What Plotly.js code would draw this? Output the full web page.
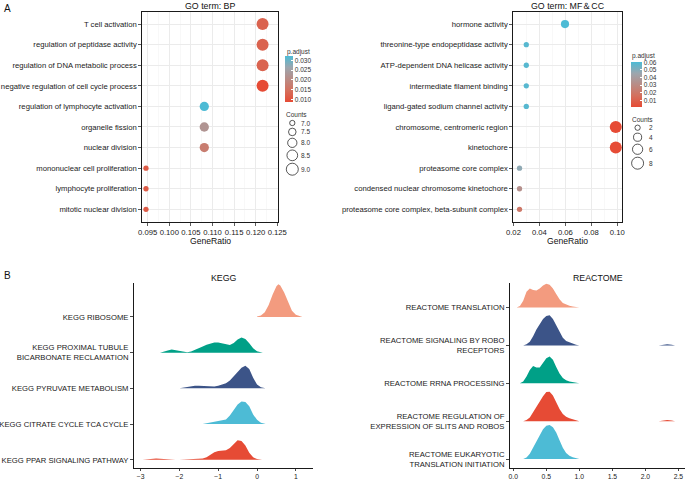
<!DOCTYPE html>
<html><head><meta charset="utf-8">
<script src="https://cdn.plot.ly/plotly-3.0.1.min.js"></script>
<style>html,body{margin:0;padding:0;background:#fff}#c{width:685px;height:481px}</style>
</head><body><div id="c"></div>
<script>
// ---------- DATA ----------
const BP_terms = ["T cell activation","regulation of peptidase activity","regulation of DNA metabolic process","negative regulation of cell cycle process","regulation of lymphocyte activation","organelle fission","nuclear division","mononuclear cell proliferation","lymphocyte proliferation","mitotic nuclear division"];
const BP_ratio = [0.1216,0.1216,0.1216,0.1216,0.1081,0.1081,0.1081,0.0946,0.0946,0.0946];
const BP_count = [9,9,9,9,8,8,8,7,7,7];
const BP_padj  = [0.0125,0.0124,0.0126,0.0086,0.0322,0.0222,0.0172,0.0113,0.0113,0.0113];
const BP_padj_ticks = [0.010,0.015,0.020,0.025,0.030];
const BP_count_breaks = [7.0,7.5,8.0,8.5,9.0];

const MF_terms = ["hormone activity","threonine-type endopeptidase activity","ATP-dependent DNA helicase activity","intermediate filament binding","ligand-gated sodium channel activity","chromosome, centromeric region","kinetochore","proteasome core complex","condensed nuclear chromosome kinetochore","proteasome core complex, beta-subunit complex"];
const MF_ratio = [0.0597,0.0299,0.0299,0.0299,0.0299,0.0988,0.0988,0.0247,0.0247,0.0247];
const MF_count = [4,2,2,2,2,8,8,2,2,2];
const MF_padj  = [0.0604,0.0585,0.0585,0.0585,0.0585,0.0012,0.0015,0.0480,0.0330,0.0200];
const MF_padj_ticks = [0.01,0.02,0.03,0.04,0.05,0.06];
const MF_count_breaks = [2,4,6,8];

const KEGG_labels = ["KEGG PPAR SIGNALING PATHWAY","KEGG CITRATE CYCLE TCA CYCLE","KEGG PYRUVATE METABOLISM","KEGG PROXIMAL TUBULE<br>BICARBONATE RECLAMATION","KEGG RIBOSOME"];
const KEGG_ribosome_x = [0.0,0.1,0.2,0.3,0.4,0.5,0.55,0.6,0.7,0.8,0.9,1.0,1.1,1.17];
const KEGG_ribosome_d = [0.01,0.04,0.13,0.33,0.62,0.86,0.91,0.88,0.68,0.40,0.17,0.06,0.02,0];
const KEGG_proximal_x = [-2.5,-2.4,-2.3,-2.2,-2.1,-2.0,-1.9,-1.8,-1.7,-1.6,-1.5,-1.4,-1.3,-1.2,-1.1,-1.0,-0.9,-0.8,-0.7,-0.6,-0.5,-0.4,-0.3,-0.2,-0.1,0.0,0.1,0.15];
const KEGG_proximal_d = [0,0.02,0.06,0.09,0.07,0.03,0.01,0.01,0.03,0.07,0.12,0.17,0.22,0.26,0.28,0.28,0.25,0.22,0.21,0.27,0.37,0.42,0.38,0.26,0.12,0.04,0.01,0];
const KEGG_pyruvate_x = [-2.0,-1.9,-1.8,-1.7,-1.6,-1.5,-1.4,-1.3,-1.2,-1.1,-1.0,-0.9,-0.8,-0.7,-0.6,-0.5,-0.4,-0.3,-0.2,-0.1,0.0,0.1,0.2,0.22];
const KEGG_pyruvate_d = [0,0.02,0.04,0.06,0.07,0.07,0.06,0.05,0.05,0.05,0.07,0.10,0.14,0.22,0.34,0.46,0.58,0.63,0.54,0.30,0.11,0.03,0.005,0];
const KEGG_citrate_x = [-1.4,-1.3,-1.2,-1.1,-1.0,-0.9,-0.8,-0.7,-0.6,-0.5,-0.4,-0.3,-0.2,-0.1,0.0,0.1,0.2,0.22];
const KEGG_citrate_d = [0,0.02,0.04,0.06,0.07,0.09,0.13,0.24,0.40,0.55,0.63,0.62,0.50,0.27,0.12,0.04,0.01,0];
const KEGG_ppar_x = [-2.95,-2.8,-2.7,-2.6,-2.5,-2.4,-2.3,-2.2,-2.1,-2.0,-1.9,-1.8,-1.7,-1.6,-1.5,-1.4,-1.3,-1.2,-1.1,-1.0,-0.9,-0.8,-0.7,-0.6,-0.5,-0.4,-0.3,-0.2,-0.1,0.0,0.1,0.13];
const KEGG_ppar_d = [0,0.02,0.03,0.04,0.03,0.02,0.01,0.005,0.003,0.005,0.01,0.02,0.03,0.03,0.03,0.04,0.07,0.14,0.21,0.25,0.26,0.27,0.33,0.45,0.55,0.53,0.40,0.20,0.07,0.02,0.005,0];

const REACT_labels = ["REACTOME EUKARYOTIC<br>TRANSLATION INITIATION","REACTOME REGULATION OF<br>EXPRESSION OF SLITS AND ROBOS","REACTOME RRNA PROCESSING","REACTOME SIGNALING BY ROBO<br>RECEPTORS","REACTOME TRANSLATION"];
const REACT_translation_x = [0.05,0.1,0.15,0.2,0.25,0.3,0.35,0.4,0.45,0.5,0.55,0.6,0.65,0.7,0.75,0.8,0.85,0.9,0.95,1.0];
const REACT_translation_d = [0,0.04,0.18,0.42,0.50,0.46,0.45,0.50,0.58,0.63,0.60,0.50,0.36,0.22,0.12,0.08,0.05,0.03,0.01,0];
const REACT_signaling_x = [0.15,0.2,0.25,0.3,0.35,0.4,0.45,0.5,0.55,0.6,0.65,0.7,0.75,0.8,0.85,0.9,0.95,1.0,2.2,2.27,2.33,2.4,2.45];
const REACT_signaling_d = [0,0.03,0.10,0.24,0.42,0.58,0.70,0.78,0.80,0.70,0.52,0.34,0.20,0.12,0.08,0.05,0.02,0,0,0.02,0.03,0.02,0];
const REACT_rrna_x = [0.1,0.15,0.2,0.25,0.3,0.35,0.4,0.45,0.5,0.55,0.6,0.65,0.7,0.75,0.8,0.85,0.9,0.95,1.0];
const REACT_rrna_d = [0,0.05,0.18,0.35,0.46,0.42,0.42,0.53,0.66,0.71,0.62,0.43,0.26,0.14,0.08,0.05,0.03,0.01,0];
const REACT_regulation_x = [0.15,0.2,0.25,0.3,0.35,0.4,0.45,0.5,0.55,0.6,0.65,0.7,0.75,0.8,0.85,0.9,0.95,1.0,2.2,2.27,2.33,2.4,2.45];
const REACT_regulation_d = [0,0.03,0.10,0.24,0.40,0.52,0.66,0.77,0.78,0.68,0.50,0.32,0.19,0.12,0.08,0.05,0.02,0,0,0.02,0.03,0.02,0];
const REACT_eukaryotic_x = [0.15,0.2,0.25,0.3,0.35,0.4,0.45,0.5,0.55,0.6,0.65,0.7,0.75,0.8,0.85,0.9,0.95,1.0];
const REACT_eukaryotic_d = [0,0.04,0.14,0.30,0.48,0.65,0.79,0.88,0.90,0.84,0.70,0.50,0.30,0.16,0.09,0.05,0.02,0];

// ---------- STYLE / LAYOUT HELPERS ----------
const W = 685, H = 481;
const fx = p => p / W, fy = p => 1 - p / H;
const FONT = "Liberation Sans, Arial, Helvetica, sans-serif";
const NPG = {red:"#E64B35", cyan:"#4DBBD5", green:"#00A087", navy:"#3C5488", salmon:"#F39B7F"};
const CSCALE = [[0,"#E64B35"],[0.25,"#D4705D"],[0.5,"#B98C86"],[0.75,"#9CA6AE"],[1,"#4DBBD5"]];
function sizeMap(c, cmin, cmax, dmin, dmax){ return Math.sqrt(dmin*dmin + (c-cmin)/(cmax-cmin)*(dmax*dmax-dmin*dmin)); }
const bpSize = c => sizeMap(c, 7, 9, 5.3, 12);
const mfSize = c => sizeMap(c, 2, 8, 5.3, 12);

const traces = [];
traces.push({type:"scatter", mode:"markers", x:BP_ratio, y:BP_terms, xaxis:"x", yaxis:"y",
  marker:{size:BP_count.map(bpSize), color:BP_padj, colorscale:CSCALE, cmin:0.0086, cmax:0.0322, line:{width:0}, opacity:1,
    showscale:true, colorbar:{x:fx(285), xanchor:"left", y:fy(56), yanchor:"top", len:45.7, lenmode:"pixels",
      thickness:8.3, thicknessmode:"pixels", xpad:0, ypad:0, outlinewidth:0, tickmode:"array", tickvals:BP_padj_ticks,
      ticktext:BP_padj_ticks.map(v=>v.toFixed(3)), ticks:"inside", ticklen:2, tickcolor:"white",
      tickfont:{family:FONT, size:6.5, color:"#333"}}},
  hoverinfo:"skip", showlegend:false});
traces.push({type:"scatter", mode:"markers", x:MF_ratio, y:MF_terms, xaxis:"x2", yaxis:"y2",
  marker:{size:MF_count.map(mfSize), color:MF_padj, colorscale:CSCALE, cmin:0.0012, cmax:0.0604, line:{width:0}, opacity:1,
    showscale:true, colorbar:{x:fx(630.5), xanchor:"left", y:fy(62), yanchor:"top", len:44.7, lenmode:"pixels",
      thickness:11, thicknessmode:"pixels", xpad:0, ypad:0, outlinewidth:0, tickmode:"array", tickvals:MF_padj_ticks,
      ticktext:MF_padj_ticks.map(v=>v.toFixed(2)), ticks:"inside", ticklen:2, tickcolor:"white",
      tickfont:{family:FONT, size:6.5, color:"#333"}}},
  hoverinfo:"skip", showlegend:false});

function legendYs(breaks, sf, y0, gap){ const ys=[y0]; for(let i=1;i<breaks.length;i++){ ys.push(ys[i-1]+(sf(breaks[i-1])+sf(breaks[i]))/2+gap);} return ys; }
const bpLegY = legendYs(BP_count_breaks, bpSize, 123, 2.5);
const mfLegY = legendYs(MF_count_breaks, mfSize, 127.7, 2.8);
traces.push({type:"scatter", mode:"markers", x:BP_count_breaks.map(()=>292.3), y:bpLegY, xaxis:"x5", yaxis:"y5",
  marker:{symbol:"circle-open", size:BP_count_breaks.map(bpSize), color:"#111", line:{width:1}}, hoverinfo:"skip", showlegend:false});
traces.push({type:"scatter", mode:"markers", x:MF_count_breaks.map(()=>637.6), y:mfLegY, xaxis:"x5", yaxis:"y5",
  marker:{symbol:"circle-open", size:MF_count_breaks.map(mfSize), color:"#111", line:{width:1}}, hoverinfo:"skip", showlegend:false});

// Ridge polygons: split into separate pieces where the density stays at zero
function ridge(xs, ds, base, color, xa, ya){
  const segs = []; let cur = [];
  for (let i = 0; i < xs.length; i++) {
    cur.push(i);
    if (ds[i] === 0 && i > 0 && i < xs.length - 1 && ds[i+1] === 0) { segs.push(cur); cur = []; }
  }
  if (cur.length) segs.push(cur);
  const X = [], Y = [];
  segs.filter(s => s.length > 1).forEach((s, k) => {
    if (k > 0) { X.push(null); Y.push(null); }
    s.forEach(i => { X.push(xs[i]); Y.push(base + ds[i]); });
    s.slice().reverse().forEach(i => { X.push(xs[i]); Y.push(base); });
  });
  return {type:"scatter", mode:"lines", xaxis:xa, yaxis:ya, fill:"toself", fillcolor:color, line:{width:0, color:color},
    connectgaps:false, x:X, y:Y, hoverinfo:"skip", showlegend:false};
}
traces.push(ridge(KEGG_ribosome_x, KEGG_ribosome_d, 5, NPG.salmon, "x3","y3"));
traces.push(ridge(KEGG_proximal_x, KEGG_proximal_d, 4, NPG.green, "x3","y3"));
traces.push(ridge(KEGG_pyruvate_x, KEGG_pyruvate_d, 3, NPG.navy, "x3","y3"));
traces.push(ridge(KEGG_citrate_x, KEGG_citrate_d, 2, NPG.cyan, "x3","y3"));
traces.push(ridge(KEGG_ppar_x, KEGG_ppar_d, 1, NPG.red, "x3","y3"));
traces.push(ridge(REACT_translation_x, REACT_translation_d, 5, NPG.salmon, "x4","y4"));
traces.push(ridge(REACT_signaling_x, REACT_signaling_d, 4, NPG.navy, "x4","y4"));
traces.push(ridge(REACT_rrna_x, REACT_rrna_d, 3, NPG.green, "x4","y4"));
traces.push(ridge(REACT_regulation_x, REACT_regulation_d, 2, NPG.red, "x4","y4"));
traces.push(ridge(REACT_eukaryotic_x, REACT_eukaryotic_d, 1, NPG.cyan, "x4","y4"));

const tickF = {family:FONT, size:7.7, color:"#1a1a1a"};
const tickFsmall = {family:FONT, size:6.8, color:"#1a1a1a"};
const dotX = {showline:true, linecolor:"#1a1a1a", linewidth:1, mirror:true, ticks:"outside", ticklen:3, tickcolor:"#333", tickwidth:0.8,
  showgrid:true, gridcolor:"#EBEBEB", gridwidth:1, zeroline:false, tickfont:tickF, fixedrange:true};
const dotY = Object.assign({}, dotX, {type:"category"});
const ridgeAx = {showline:true, linecolor:"#1a1a1a", linewidth:1, ticks:"outside", ticklen:3, tickcolor:"#1a1a1a", tickwidth:0.8,
  showgrid:false, zeroline:false, tickfont:tickF, fixedrange:true};

const layout = {
  width:W, height:H, margin:{l:0,r:0,t:0,b:0}, paper_bgcolor:"#fff", plot_bgcolor:"rgba(0,0,0,0)",
  font:{family:FONT, color:"#1a1a1a"}, showlegend:false,
  xaxis: Object.assign({}, dotX, {domain:[fx(142.3),fx(277.7)], range:[0.09375,0.1251], anchor:"y", tickmode:"linear", tick0:0.095, dtick:0.005, tickformat:".3f",
    minor:{tick0:0.095, dtick:0.0025, showgrid:true, gridcolor:"#F3F3F3", gridwidth:0.6, ticks:""}}),
  yaxis: Object.assign({}, dotY, {domain:[fy(221.7),fy(11.7)], anchor:"x", categoryorder:"array", categoryarray:BP_terms, range:[9.6,-0.6]}),
  xaxis2: Object.assign({}, dotX, {domain:[fx(513.3),fx(622)], range:[0.0199,0.1036], anchor:"y2", tickmode:"linear", tick0:0.02, dtick:0.02, tickformat:".2f",
    minor:{tick0:0.02, dtick:0.01, showgrid:true, gridcolor:"#F3F3F3", gridwidth:0.6, ticks:""}}),
  yaxis2: Object.assign({}, dotY, {domain:[fy(221.7),fy(11.7)], anchor:"x2", categoryorder:"array", categoryarray:MF_terms, range:[9.6,-0.6]}),
  xaxis3: Object.assign({}, ridgeAx, {domain:[fx(134),fx(313.3)], range:[-3.17,1.45], anchor:"y3", tickmode:"array", tickvals:[-3,-2,-1,0,1], ticklen:2.5, tickfont:tickFsmall}),
  yaxis3: Object.assign({}, ridgeAx, {domain:[fy(467.8),fy(283.3)], range:[0.777,5.94], anchor:"x3", tickmode:"array", tickvals:[1,2,3,4,5], ticktext:KEGG_labels}),
  xaxis4: Object.assign({}, ridgeAx, {domain:[fx(510),1], range:[-0.05,2.6], anchor:"y4", tickmode:"array", tickvals:[0,0.5,1,1.5,2,2.5], ticktext:["0.0","0.5","1.0","1.5","2.0","2.5"], ticklen:2.5, tickfont:tickFsmall}),
  yaxis4: Object.assign({}, ridgeAx, {domain:[fy(467.8),fy(283.3)], range:[0.771,5.64], anchor:"x4", tickmode:"array", tickvals:[1,2,3,4,5], ticktext:REACT_labels}),
  xaxis5: {domain:[0,1], range:[0,W], visible:false, anchor:"y5", fixedrange:true},
  yaxis5: {domain:[0,1], range:[H,0], visible:false, anchor:"x5", fixedrange:true},
  annotations: []
};
function ann(text, x, y, size, xanchor, color){
  layout.annotations.push({text:text, x:fx(x), y:fy(y), xref:"paper", yref:"paper", xanchor:xanchor||"center", yanchor:"middle",
    showarrow:false, font:{family:FONT, size:size, color:color||"#111"}});
}
ann("A", 7, 8, 10, "center");
ann("B", 7, 275, 10, "center");
ann("GO term: BP", 210, 5.5, 8.8);
ann("GO term: MF\uFF06CC", 567.5, 5.5, 8.8);
ann("GeneRatio", 210, 240.5, 8.6);
ann("GeneRatio", 567.5, 240.5, 8.6);
ann("KEGG", 223.7, 278, 8.8);
ann("REACTOME", 597.5, 278, 8.8);
ann("p.adjust", 284.5, 51.5, 6.5, "left", "#333");
ann("p.adjust", 629.5, 55.5, 6.5, "left", "#333");
ann("Counts", 284, 114.3, 6.5, "left", "#333");
ann("Counts", 629.5, 119, 6.5, "left", "#333");
BP_count_breaks.forEach((b,i)=>ann(b.toFixed(1), 299, bpLegY[i], 6.5, "left", "#333"));
MF_count_breaks.forEach((b,i)=>ann(String(b), 647, mfLegY[i], 6.5, "left", "#333"));

Plotly.newPlot("c", traces, layout, {staticPlot:true, displayModeBar:false});
</script></body></html>
